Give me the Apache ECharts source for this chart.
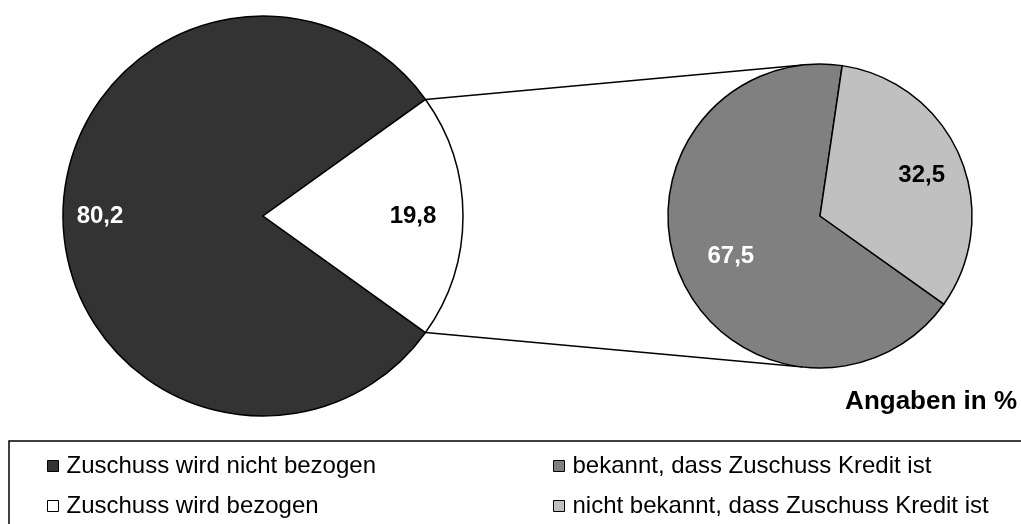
<!DOCTYPE html>
<html>
<head>
<meta charset="utf-8">
<title>Zuschuss</title>
<script src="https://cdn.jsdelivr.net/npm/echarts@6/dist/echarts.min.js"></script>
<style>
  html, body { margin: 0; padding: 0; background: #fff; }
  #chart { width: 1021px; height: 524px; }
</style>
</head>
<body>
<div id="chart"></div>
<script>
// Daten
const bigNames = ['Zuschuss wird nicht bezogen', 'Zuschuss wird bezogen']
const bigValues = [80.2, 19.8]
const bigColors = ['#333333', '#ffffff']

const smallNames = ['bekannt, dass Zuschuss Kredit ist', 'nicht bekannt, dass Zuschuss Kredit ist']
const smallValues = [67.5, 32.5]
const smallColors = ['#808080', '#c0c0c0']

const FONT = "'Liberation Sans', Arial, sans-serif"

// Lage der beiden Kreise
const bigCenter = [263, 216]
const bigR = 200
const smallCenter = [820, 216]
const smallR = 152

const bigSum = bigValues[0] + bigValues[1]
// zweites Segment mittig nach rechts ausrichten
const bigStart = ((bigValues[0] + bigValues[1] / 2) / bigSum) * 360
const smallStart = 324.6

const fmt = (v) => v.toFixed(1).replace('.', ',')

// Verbindungslinien: Kanten des Segments -> oben/unten am kleinen Kreis
const halfAng = ((bigValues[1] / bigSum) * 360) / 2 * Math.PI / 180
const p1 = [bigCenter[0] + bigR * Math.cos(halfAng), bigCenter[1] - bigR * Math.sin(halfAng)]
const p2 = [bigCenter[0] + bigR * Math.cos(halfAng), bigCenter[1] + bigR * Math.sin(halfAng)]
const tAng = 96.4 * Math.PI / 180
const q1 = [smallCenter[0] + smallR * Math.cos(tAng), smallCenter[1] - smallR * Math.sin(tAng)]
const q2 = [smallCenter[0] + smallR * Math.cos(tAng), smallCenter[1] + smallR * Math.sin(tAng)]

const labelColorsBig = ['#ffffff', '#000000']
const labelPadBig = [[0, 0, 0, 0], [0, 26, 0, 0]]
const labelColorsSmall = ['#ffffff', '#000000']
const labelPadSmall = [[0, 0, 0, 13], [0, 0, 6, 12]]

function pieData(names, values, colors) {
  return names.map((n, i) => ({ name: n, value: values[i], itemStyle: { color: colors[i] } }))
}

function labelData(names, values, colors, pads) {
  return names.map((n, i) => ({
    name: n,
    value: values[i],
    label: { color: colors[i], padding: pads[i] },
  }))
}

const chart = echarts.init(document.getElementById('chart'), null, { renderer: 'canvas' })

const legendCommon = {
  orient: 'vertical',
  top: 454,
  padding: 0,
  itemGap: 16,
  itemWidth: 11,
  itemHeight: 11,
  icon: 'rect',
  selectedMode: false,
  itemStyle: { borderColor: '#000', borderWidth: 1 },
  textStyle: { fontFamily: FONT, fontSize: 24, color: '#000', padding: [0, 0, 0, 3] },
}

chart.setOption({
  animation: false,
  backgroundColor: '#fff',
  title: {
    text: 'Angaben in %',
    right: 4,
    top: 389,
    padding: 0,
    textStyle: { fontFamily: FONT, fontSize: 26, fontWeight: 'bold', color: '#000' },
  },
  legend: [
    Object.assign({}, legendCommon, { left: 47, data: bigNames }),
    Object.assign({}, legendCommon, { left: 553, data: smallNames }),
  ],
  graphic: [
    {
      type: 'rect',
      shape: { x: 9, y: 441, width: 1040, height: 120 },
      style: { fill: 'none', stroke: '#000', lineWidth: 1.5 },
      silent: true,
    },
    {
      type: 'line',
      shape: { x1: p1[0], y1: p1[1], x2: q1[0], y2: q1[1] },
      style: { stroke: '#000', lineWidth: 1.5 },
      silent: true,
    },
    {
      type: 'line',
      shape: { x1: p2[0], y1: p2[1], x2: q2[0], y2: q2[1] },
      style: { stroke: '#000', lineWidth: 1.5 },
      silent: true,
    },
  ],
  series: [
    {
      type: 'pie',
      center: bigCenter,
      radius: [0, bigR],
      startAngle: bigStart,
      label: { show: false },
      labelLine: { show: false },
      itemStyle: { borderColor: '#000', borderWidth: 1.5 },
      emphasis: { disabled: true },
      data: pieData(bigNames, bigValues, bigColors),
    },
    {
      type: 'pie',
      center: smallCenter,
      radius: [0, smallR],
      startAngle: smallStart,
      label: { show: false },
      labelLine: { show: false },
      itemStyle: { borderColor: '#000', borderWidth: 1.5 },
      emphasis: { disabled: true },
      data: pieData(smallNames, smallValues, smallColors),
    },
    // nur Beschriftungen
    {
      type: 'pie',
      silent: true,
      center: bigCenter,
      radius: [120, bigR],
      startAngle: bigStart,
      itemStyle: { color: 'transparent', borderWidth: 0 },
      label: {
        show: true,
        position: 'inside',
        fontFamily: FONT,
        fontSize: 24,
        fontWeight: 'bold',
        formatter: (p) => fmt(p.value),
      },
      labelLine: { show: false },
      emphasis: { disabled: true },
      data: labelData(bigNames, bigValues, labelColorsBig, labelPadBig),
    },
    {
      type: 'pie',
      silent: true,
      center: smallCenter,
      radius: [50, smallR],
      startAngle: smallStart,
      itemStyle: { color: 'transparent', borderWidth: 0 },
      label: {
        show: true,
        position: 'inside',
        fontFamily: FONT,
        fontSize: 24,
        fontWeight: 'bold',
        formatter: (p) => fmt(p.value),
      },
      labelLine: { show: false },
      emphasis: { disabled: true },
      data: labelData(smallNames, smallValues, labelColorsSmall, labelPadSmall),
    },
  ],
})
</script>
</body>
</html>
